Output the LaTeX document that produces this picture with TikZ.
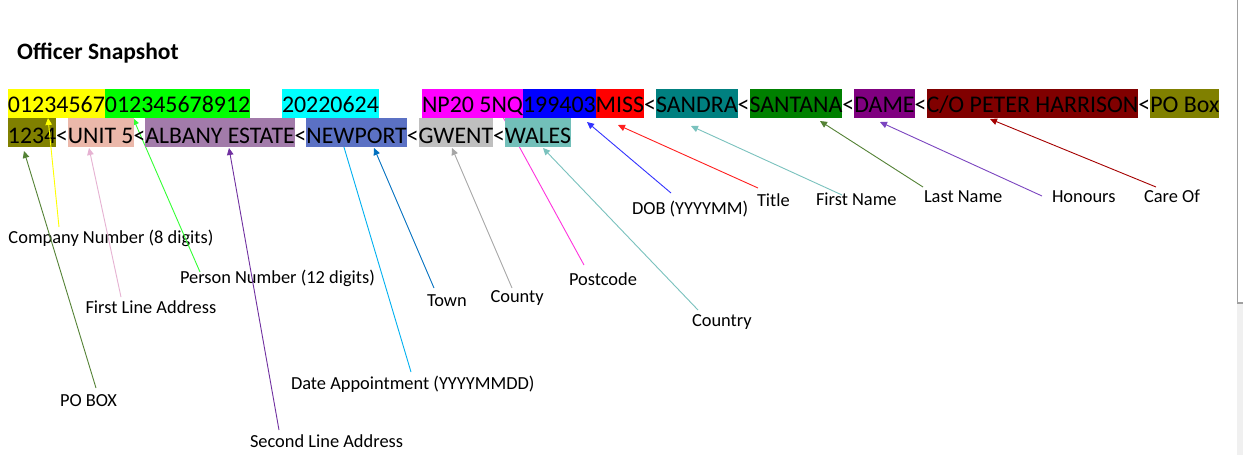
\documentclass[tikz,border=0pt]{standalone}
\usepackage{fontspec}
\setmainfont{Carlito}
\usetikzlibrary{arrows.meta}
\definecolor{cYellow}{HTML}{FFFF00}
\definecolor{cLime}{HTML}{00FF00}
\definecolor{cCyan}{HTML}{00FFFF}
\definecolor{cMagenta}{HTML}{FF00FF}
\definecolor{cBlue}{HTML}{0000FF}
\definecolor{cRed}{HTML}{FF0000}
\definecolor{cTeal}{HTML}{008080}
\definecolor{cGreen}{HTML}{008000}
\definecolor{cPurple}{HTML}{800080}
\definecolor{cMaroon}{HTML}{800000}
\definecolor{cOlive}{HTML}{808000}
\definecolor{cPink}{HTML}{EBB8AA}
\definecolor{cMauve}{HTML}{A27BAA}
\definecolor{cSlate}{HTML}{5B71C4}
\definecolor{cSilver}{HTML}{BFBFBF}
\definecolor{cAqua}{HTML}{72BFB9}
\definecolor{aYellow}{HTML}{FFFF00}
\definecolor{aLime}{HTML}{33FF33}
\definecolor{aPink}{HTML}{E6B2D2}
\definecolor{aOliveG}{HTML}{548235}
\definecolor{aPurple}{HTML}{7030A0}
\definecolor{aSky}{HTML}{00B0F0}
\definecolor{aBlue}{HTML}{0070C0}
\definecolor{aGray}{HTML}{A6A6A6}
\definecolor{aMagenta}{HTML}{FF33DD}
\definecolor{aTeal}{HTML}{7AC2BE}
\definecolor{aDob}{HTML}{3333FF}
\definecolor{aRed}{HTML}{FF2020}
\definecolor{aHon}{HTML}{7B45C0}
\definecolor{aCare}{HTML}{A50000}
\definecolor{panelGray}{HTML}{F0F0F0}
\definecolor{panelLine}{HTML}{A0A0A0}
\newcommand{\rowfontA}{\fontsize{23.9}{28}\selectfont}
\newcommand{\rowfontB}{\fontsize{23.75}{28}\selectfont}
\newcommand{\lblfont}{\fontsize{18.4}{22}\selectfont}
\begin{document}
\begin{tikzpicture}[x=1pt,y=-1pt,
  segA/.style={inner sep=0pt, outer sep=0pt, font=\rowfontA, anchor=base west, text height=23.7pt, text depth=4.8pt},
  segB/.style={inner sep=0pt, outer sep=0pt, font=\rowfontB, anchor=base west, text height=25.8pt, text depth=4pt},
  lbl/.style={inner sep=0pt, outer sep=0pt, font=\lblfont, anchor=base west},
  conn/.style={line width=0.9pt, -{Triangle[length=7pt,width=6.5pt]}},
  plain/.style={line width=0.9pt}]
\useasboundingbox (0,0) rectangle (1243,455);
\fill[white] (0,0) rectangle (1243,455);
% window edge
\fill[panelGray] (1237,303) rectangle (1243,455);
\draw[panelLine, line width=1.2pt] (1237.6,0) -- (1237.6,303) -- (1243,303);

% title
\node[inner sep=0pt, anchor=base west, font=\fontsize{23.5}{28}\selectfont\bfseries] (title) at (17,59) {Officer Snapshot};

% labels
\node[lbl] (lcomp) at (8.5,243) {Company Number (8 digits)};
\node[lbl] (lperson) at (180,283) {Person Number (12 digits)};
\node[lbl] (lfirst) at (85.5,313) {First Line Address};
\node[lbl] (lpobox) at (60,406) {PO BOX};
\node[lbl] (lsecond) at (250,447) {Second Line Address};
\node[lbl] (ldate) at (291,389) {Date Appointment (YYYYMMDD)};
\node[lbl] (ltown) at (427,306.5) {Town};
\node[lbl] (lcounty) at (490.5,302) {County};
\node[lbl] (lpost) at (569,285) {Postcode};
\node[lbl] (lcountry) at (692,326) {Country};
\node[lbl] (ldob) at (632,214) {DOB (YYYYMM)};
\node[lbl] (ltitle) at (757,206.5) {Title};
\node[lbl] (lfname) at (816,205.5) {First Name};
\node[lbl] (llname) at (924,202.5) {Last Name};
\node[lbl] (lhon) at (1052,202.5) {Honours};
\node[lbl] (lcare) at (1144,202.5) {Care Of};

% connector end points
\coordinate (tComp) at (59,227);   \coordinate (hComp) at (48,118);
\coordinate (tPerson) at (200,272); \coordinate (hPerson) at (133,118);
\coordinate (tFirst) at (121,297); \coordinate (hFirst) at (89,148);
\coordinate (tPobox) at (96,388);  \coordinate (hPobox) at (24,151);
\coordinate (tSecond) at (279,430); \coordinate (hSecond) at (229,148);
\coordinate (tDate) at (411,372);  \coordinate (hDate) at (335,117);
\coordinate (tTown) at (434,288);  \coordinate (hTown) at (374,148);
\coordinate (tCounty) at (512,288); \coordinate (hCounty) at (452,148);
\coordinate (tPost) at (584,265);  \coordinate (hPost) at (503,117);
\coordinate (tCountry) at (698,310); \coordinate (hCountry) at (543,148);
\coordinate (tDob) at (671,193);   \coordinate (hDob) at (587,122);
\coordinate (tTitle) at (758,188); \coordinate (hTitle) at (618,125);
\coordinate (tFname) at (842,195); \coordinate (hFname) at (691,126);
\coordinate (tLname) at (923,187); \coordinate (hLname) at (820,121);
\coordinate (tHon) at (1042,196);  \coordinate (hHon) at (880,122);
\coordinate (tCare) at (1156,187); \coordinate (hCare) at (990,119);

% connectors behind the highlighted text
\draw[conn, aLime] (tPerson) -- (hPerson);
\draw[conn, aPink] (tFirst) -- (hFirst);
\draw[conn, aOliveG] (tPobox) -- (hPobox);
\draw[conn, aPurple] (tSecond) -- (hSecond);
\draw[plain, aSky] (tDate) -- (hDate);
\draw[conn, aBlue] (tTown) -- (hTown);
\draw[conn, aGray] (tCounty) -- (hCounty);
\draw[plain, aMagenta] (tPost) -- (hPost);
\draw[conn, aTeal] (tCountry) -- (hCountry);
\draw[conn, aDob] (tDob) -- (hDob);
\draw[conn, aRed] (tTitle) -- (hTitle);
\draw[conn, aTeal] (tFname) -- (hFname);
\draw[conn, aOliveG] (tLname) -- (hLname);
\draw[conn, aHon] (tHon) -- (hHon);
\draw[conn, aCare] (tCare) -- (hCare);

% row 1
\node[segA, fill=cYellow] (r1a) at (8,112.7) {01234567};
\node[segA, fill=cLime] (r1b) at (r1a.base east) {012345678912};
\node[segA, fill=cCyan] (r1c) at (282,112.7) {20220624};
\node[segA, fill=cMagenta] (r1d) at (422,112.7) {NP20 5NQ};
\node[segA, fill=cBlue] (r1e) at (r1d.base east) {199403};
\node[segA, fill=cRed] (r1f) at (r1e.base east) {MISS};
\node[segA] (r1g) at (r1f.base east) {<};
\node[segA, fill=cTeal] (r1h) at (r1g.base east) {SANDRA};
\node[segA] (r1i) at (r1h.base east) {<};
\node[segA, fill=cGreen] (r1j) at (r1i.base east) {SANTANA};
\node[segA] (r1k) at (r1j.base east) {<};
\node[segA, fill=cPurple] (r1l) at (r1k.base east) {DAME};
\node[segA] (r1m) at (r1l.base east) {<};
\node[segA, fill=cMaroon] (r1n) at (r1m.base east) {C/O PETER HARRISON};
\node[segA] (r1o) at (r1n.base east) {<};
\node[segA, fill=cOlive] (r1p) at (r1o.base east) {PO Box\hspace{0.2em}};

% row 2
\node[segB, fill=cOlive] (r2a) at (8,143.3) {1234};
\node[segB] (r2b) at (r2a.base east) {<};
\node[segB, fill=cPink] (r2c) at (r2b.base east) {UNIT 5};
\node[segB] (r2d) at (r2c.base east) {<};
\node[segB, fill=cMauve] (r2e) at (r2d.base east) {ALBANY ESTATE};
\node[segB] (r2f) at (r2e.base east) {<};
\node[segB, fill=cSlate] (r2g) at (r2f.base east) {NEWPORT};
\node[segB] (r2h) at (r2g.base east) {<};
\node[segB, fill=cSilver] (r2i) at (r2h.base east) {GWENT};
\node[segB] (r2j) at (r2i.base east) {<};
\node[segB, fill=cAqua] (r2k) at (r2j.base east) {WALES};

% connector drawn over the text
\draw[conn, aYellow] (tComp) -- (hComp);
\end{tikzpicture}
\end{document}
